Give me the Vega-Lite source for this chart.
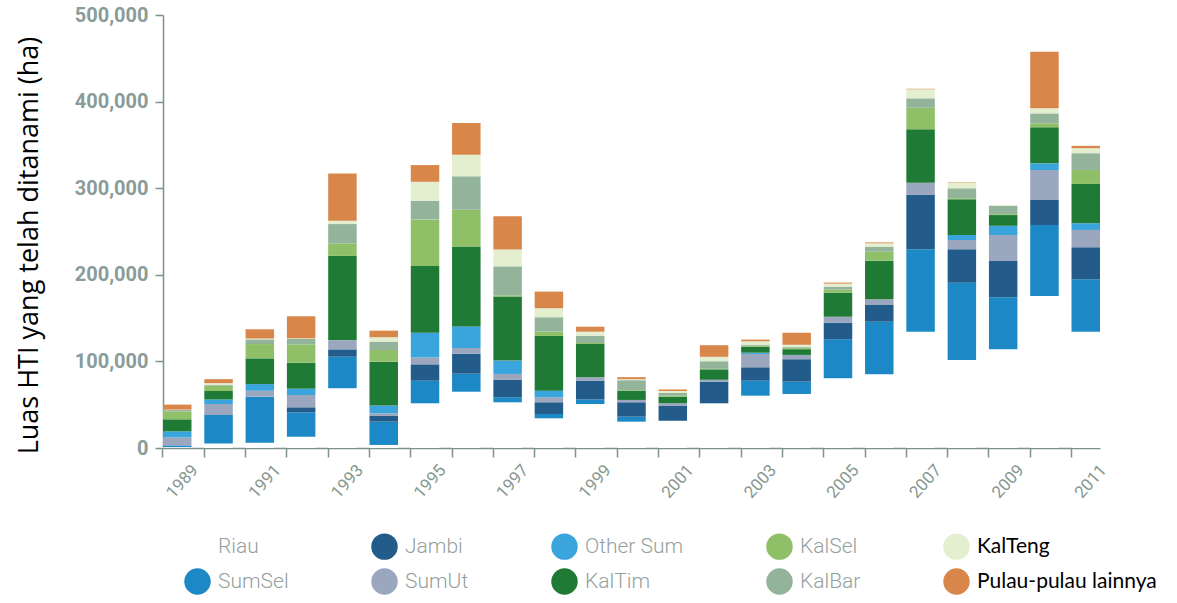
{
  "$schema": "https://vega.github.io/schema/vega-lite/v6.json",
  "autosize": "none",
  "width": 937,
  "height": 433,
  "padding": {"left": 163, "top": 15, "right": 77, "bottom": 155},
  "background": "white",
  "config": {"view": {"stroke": null}},
  "data": {
    "values": [
      {"year": 1989, "Riau": 1000, "SumSel": 2000, "Jambi": 0, "SumUt": 9200, "Other Sum": 7000, "KalTim": 13900, "KalSel": 9200, "KalBar": 1500, "KalTeng": 500, "Pulau-pulau lainnya": 5800},
      {"year": 1990, "Riau": 5200, "SumSel": 32900, "Jambi": 0, "SumUt": 12700, "Other Sum": 5200, "KalTim": 9800, "KalSel": 5800, "KalBar": 1000, "KalTeng": 2300, "Pulau-pulau lainnya": 4600},
      {"year": 1991, "Riau": 6100, "SumSel": 53100, "Jambi": 0, "SumUt": 6900, "Other Sum": 7700, "KalTim": 29700, "KalSel": 16500, "KalBar": 5400, "KalTeng": 1000, "Pulau-pulau lainnya": 10700},
      {"year": 1992, "Riau": 13000, "SumSel": 28200, "Jambi": 5800, "SumUt": 14200, "Other Sum": 7300, "KalTim": 30000, "KalSel": 21100, "KalBar": 6600, "KalTeng": 500, "Pulau-pulau lainnya": 25400},
      {"year": 1993, "Riau": 68900, "SumSel": 36500, "Jambi": 8500, "SumUt": 10700, "Other Sum": 0, "KalTim": 97300, "KalSel": 14300, "KalBar": 22400, "KalTeng": 3800, "Pulau-pulau lainnya": 54600},
      {"year": 1994, "Riau": 3500, "SumSel": 26900, "Jambi": 6600, "SumUt": 3100, "Other Sum": 9000, "KalTim": 50600, "KalSel": 13500, "KalBar": 9600, "KalTeng": 5100, "Pulau-pulau lainnya": 7600},
      {"year": 1995, "Riau": 51600, "SumSel": 26100, "Jambi": 18900, "SumUt": 8100, "Other Sum": 28400, "KalTim": 77000, "KalSel": 53900, "KalBar": 21500, "KalTeng": 21900, "Pulau-pulau lainnya": 19300},
      {"year": 1996, "Riau": 65000, "SumSel": 20800, "Jambi": 23100, "SumUt": 6600, "Other Sum": 24900, "KalTim": 92400, "KalSel": 42400, "KalBar": 38500, "KalTeng": 25000, "Pulau-pulau lainnya": 36600},
      {"year": 1997, "Riau": 52800, "SumSel": 5800, "Jambi": 20000, "SumUt": 6900, "Other Sum": 15400, "KalTim": 73900, "KalSel": 1500, "KalBar": 33500, "KalTeng": 19300, "Pulau-pulau lainnya": 38500},
      {"year": 1998, "Riau": 34300, "SumSel": 5000, "Jambi": 13500, "SumUt": 5800, "Other Sum": 7600, "KalTim": 63200, "KalSel": 5000, "KalBar": 16600, "KalTeng": 10400, "Pulau-pulau lainnya": 19200},
      {"year": 1999, "Riau": 50800, "SumSel": 5400, "Jambi": 21500, "SumUt": 3900, "Other Sum": 0, "KalTim": 38500, "KalSel": 1200, "KalBar": 8400, "KalTeng": 4600, "Pulau-pulau lainnya": 5800},
      {"year": 2000, "Riau": 30400, "SumSel": 5800, "Jambi": 16600, "SumUt": 2700, "Other Sum": 0, "KalTim": 10700, "KalSel": 600, "KalBar": 11500, "KalTeng": 1200, "Pulau-pulau lainnya": 2300},
      {"year": 2001, "Riau": 31500, "SumSel": 0, "Jambi": 17000, "SumUt": 3100, "Other Sum": 0, "KalTim": 7600, "KalSel": 1200, "KalBar": 3100, "KalTeng": 2300, "Pulau-pulau lainnya": 1700},
      {"year": 2002, "Riau": 51600, "SumSel": 0, "Jambi": 24900, "SumUt": 2300, "Other Sum": 0, "KalTim": 12000, "KalSel": 600, "KalBar": 8800, "KalTeng": 5100, "Pulau-pulau lainnya": 13400},
      {"year": 2003, "Riau": 60400, "SumSel": 17300, "Jambi": 15500, "SumUt": 15400, "Other Sum": 1500, "KalTim": 6900, "KalSel": 1200, "KalBar": 1200, "KalTeng": 3800, "Pulau-pulau lainnya": 2000},
      {"year": 2004, "Riau": 62400, "SumSel": 14200, "Jambi": 25900, "SumUt": 5000, "Other Sum": 0, "KalTim": 6600, "KalSel": 1200, "KalBar": 1200, "KalTeng": 2700, "Pulau-pulau lainnya": 13900},
      {"year": 2005, "Riau": 80500, "SumSel": 45000, "Jambi": 19200, "SumUt": 6900, "Other Sum": 0, "KalTim": 27700, "KalSel": 3500, "KalBar": 3500, "KalTeng": 3500, "Pulau-pulau lainnya": 1200},
      {"year": 2006, "Riau": 85100, "SumSel": 60700, "Jambi": 19300, "SumUt": 6600, "Other Sum": 0, "KalTim": 44600, "KalSel": 10400, "KalBar": 5800, "KalTeng": 3900, "Pulau-pulau lainnya": 1000},
      {"year": 2007, "Riau": 134300, "SumSel": 95100, "Jambi": 62700, "SumUt": 14200, "Other Sum": 0, "KalTim": 61700, "KalSel": 24900, "KalBar": 10900, "KalTeng": 10400, "Pulau-pulau lainnya": 600},
      {"year": 2008, "Riau": 101600, "SumSel": 89300, "Jambi": 38600, "SumUt": 10700, "Other Sum": 5800, "KalTim": 41200, "KalSel": 1200, "KalBar": 11500, "KalTeng": 6500, "Pulau-pulau lainnya": 500},
      {"year": 2009, "Riau": 114000, "SumSel": 60000, "Jambi": 41900, "SumUt": 30000, "Other Sum": 10700, "KalTim": 12400, "KalSel": 1000, "KalBar": 9600, "KalTeng": 1000, "Pulau-pulau lainnya": 0},
      {"year": 2010, "Riau": 175500, "SumSel": 82000, "Jambi": 28900, "SumUt": 34600, "Other Sum": 7700, "KalTim": 41600, "KalSel": 4600, "KalBar": 11500, "KalTeng": 5800, "Pulau-pulau lainnya": 65400},
      {"year": 2011, "Riau": 134300, "SumSel": 60500, "Jambi": 37000, "SumUt": 20000, "Other Sum": 7700, "KalTim": 45400, "KalSel": 16200, "KalBar": 19300, "KalTeng": 5800, "Pulau-pulau lainnya": 2700}
    ]
  },
  "transform": [
    {"fold": ["Riau", "SumSel", "Jambi", "SumUt", "Other Sum", "KalTim", "KalSel", "KalBar", "KalTeng", "Pulau-pulau lainnya"], "as": ["region", "ha"]},
    {"calculate": "indexof(['Riau','SumSel','Jambi','SumUt','Other Sum','KalTim','KalSel','KalBar','KalTeng','Pulau-pulau lainnya'], datum.region)", "as": "stackOrder"}
  ],
  "mark": {"type": "bar", "strokeWidth": 0},
  "encoding": {
    "x": {
      "field": "year",
      "type": "ordinal",
      "scale": {"paddingInner": 0.31, "paddingOuter": 0},
      "axis": {
        "title": null,
        "bandPosition": 0,
        "labelExpr": "datum.value % 2 == 1 ? datum.value : ''",
        "labelAngle": -48,
        "labelAlign": "right",
        "labelBaseline": "middle",
        "labelOffset": 18,
        "labelPadding": 10,
        "labelFont": "Roboto",
        "labelFontSize": 17,
        "labelFontWeight": "normal",
        "labelColor": "#86978f",
        "labelOverlap": false,
        "domainColor": "#7d918d",
        "domainWidth": 1.5,
        "ticks": true,
        "tickColor": "#7d918d",
        "tickWidth": 1.5,
        "tickSize": 9
      }
    },
    "y": {
      "field": "ha",
      "type": "quantitative",
      "stack": "zero",
      "scale": {"domain": [0, 500000], "nice": false},
      "axis": {
        "title": "Luas HTI yang telah ditanami (ha)",
        "titleFont": "Open Sans",
        "titleFontSize": 27,
        "titleFontWeight": "normal",
        "titleColor": "#000000",
        "titleX": -134,
        "titleY": 230,
        "titleAngle": -90,
        "titleAlign": "center",
        "titleBaseline": "middle",
        "values": [0, 100000, 200000, 300000, 400000, 500000],
        "format": ",d",
        "grid": false,
        "labelFont": "Roboto",
        "labelFontSize": 20,
        "labelFontWeight": "bold",
        "labelColor": "#8a9c99",
        "labelPadding": 7,
        "domainColor": "#7d918d",
        "domainWidth": 1.5,
        "tickColor": "#7d918d",
        "tickWidth": 1.5,
        "tickSize": 8
      }
    },
    "color": {
      "field": "region",
      "type": "nominal",
      "scale": {
        "domain": ["Riau", "Jambi", "Other Sum", "KalSel", "KalTeng", "SumSel", "SumUt", "KalTim", "KalBar", "Pulau-pulau lainnya"],
        "range": ["#ffffff", "#235b8a", "#3aa5dc", "#8fbf66", "#e3efcf", "#1d88c6", "#9aa7be", "#1f7a35", "#93b39b", "#d8864a"]
      },
      "legend": {
        "title": null,
        "orient": "none",
        "legendX": 21,
        "legendY": 518,
        "direction": "horizontal",
        "columns": 5,
        "columnPadding": 82,
        "rowPadding": 8,
        "symbolType": "circle",
        "symbolSize": 700,
        "symbolStrokeWidth": 0,
        "symbolOpacity": 1,
        "labelOffset": 7,
        "labelFont": {"expr": "datum.label == 'KalTeng' || datum.label == 'Pulau-pulau lainnya' ? 'Lato' : 'Roboto'"},
        "labelFontSize": 21,
        "labelFontWeight": {"expr": "datum.label == 'KalTeng' || datum.label == 'Pulau-pulau lainnya' ? 400 : 300"},
        "labelColor": {"expr": "datum.label == 'KalTeng' || datum.label == 'Pulau-pulau lainnya' ? '#000000' : '#949f9e'"},
        "labelLimit": 300
      }
    },
    "order": {"field": "stackOrder", "type": "quantitative"}
  }
}
